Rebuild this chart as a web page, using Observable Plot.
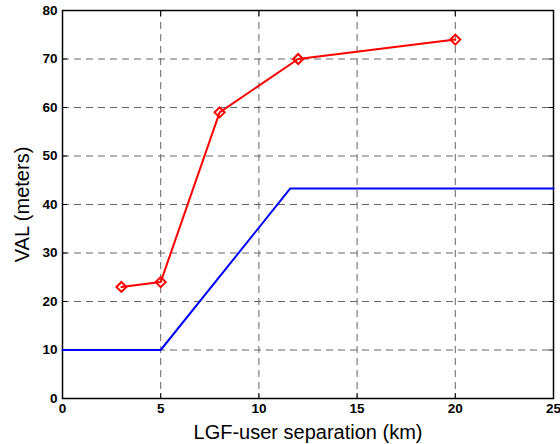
<!DOCTYPE html>
<html>
<head>
<meta charset="utf-8">
<script src="https://cdn.jsdelivr.net/npm/d3@7"></script>
<script src="https://cdn.jsdelivr.net/npm/@observablehq/plot@0.6"></script>
<style>
  body { margin: 0; background: #fff; }
  #chart svg { display: block; }
</style>
</head>
<body>
<div id="chart"></div>
<script>
const redX = [3, 5, 8, 12, 20];
const redY = [23, 24, 59, 70, 74];
const blueX = [0, 5, 11.6, 25];
const blueY = [10, 10, 43.3, 43.3];
const xTicks = [0, 5, 10, 15, 20, 25];
const yTicks = [0, 10, 20, 30, 40, 50, 60, 70, 80];

const red = redX.map((x, i) => ({x, y: redY[i]}));
const blue = blueX.map((x, i) => ({x, y: blueY[i]}));

const chart = Plot.plot({
  width: 560,
  height: 444,
  marginLeft: 62,
  marginRight: 7,
  marginTop: 10,
  marginBottom: 46,
  style: {fontFamily: "Liberation Sans, Arial, sans-serif", background: "#fff"},
  x: {domain: [0, 25]},
  y: {domain: [0, 80]},
  marks: [
    Plot.gridX(xTicks.slice(1, -1), {stroke: "#666", strokeOpacity: 1, strokeDasharray: "7,5", strokeWidth: 1}),
    Plot.gridY(yTicks.slice(1, -1), {stroke: "#666", strokeOpacity: 1, strokeDasharray: "7,5", strokeWidth: 1}),
    Plot.frame({stroke: "#000", strokeWidth: 1.5}),
    Plot.axisX(xTicks, {anchor: "bottom", tickSize: -5, text: null, label: null, stroke: "#000"}),
    Plot.axisX(xTicks, {anchor: "top", tickSize: -5, text: null, label: null, stroke: "#000"}),
    Plot.axisY(yTicks, {anchor: "left", tickSize: -5, text: null, label: null, stroke: "#000"}),
    Plot.axisY(yTicks, {anchor: "right", tickSize: -5, text: null, label: null, stroke: "#000"}),
    Plot.axisX(xTicks, {anchor: "bottom", tickSize: 0, tickPadding: 5, fontSize: 13.5, fontWeight: "bold", fill: "#000",
      label: "LGF-user separation (km)", labelAnchor: "center", labelArrow: "none", labelOffset: 40}),
    Plot.axisY(yTicks, {anchor: "left", tickSize: 0, tickPadding: 5, fontSize: 13.5, fontWeight: "bold", fill: "#000",
      label: "VAL (meters)", labelAnchor: "center", labelArrow: "none", labelOffset: 48}),
    Plot.line(blue, {x: "x", y: "y", stroke: "#0000ff", strokeWidth: 2}),
    Plot.line(red, {x: "x", y: "y", stroke: "#ff0000", strokeWidth: 2}),
    Plot.dot(red, {x: "x", y: "y", symbol: "diamond2", r: 4.5, stroke: "#ff0000", strokeWidth: 2, fill: "none"})
  ]
});
document.getElementById("chart").appendChild(chart);
chart.querySelectorAll("g[aria-label='x-axis label'] text, g[aria-label='y-axis label'] text").forEach(t => {
  t.setAttribute("font-size", 20);
  t.style.fontWeight = "normal";
});
</script>
</body>
</html>
